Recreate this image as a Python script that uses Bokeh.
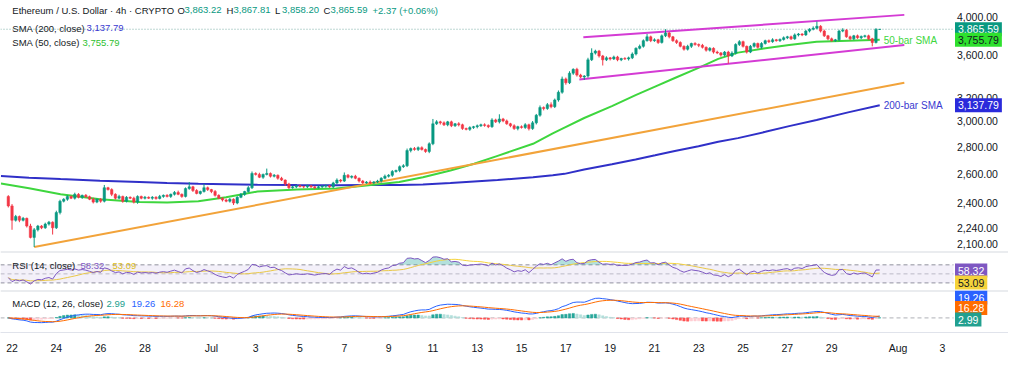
import numpy as np
import pandas as pd
from bokeh.plotting import figure
from bokeh.layouts import column
from bokeh.models import Range1d, FixedTicker, Span, Label, BoxAnnotation
from bokeh.core.properties import value
from bokeh.embed import file_html
from bokeh.resources import INLINE

# ---------------- data ----------------
# 4h ETH/USD candles, first bar 21 Jun 20:00, x measured in days from 22 Jun 00:00
first_open = 2442.0
closes = [
    2379, 2287, 2311, 2287, 2299, 2251, 2182, 2228, 2251, 2240,
    2263, 2275, 2240, 2336, 2410, 2423, 2442, 2430, 2456, 2436,
    2449, 2440, 2423, 2404, 2423, 2410, 2501, 2488, 2456, 2430,
    2442, 2410, 2436, 2430, 2404, 2442, 2430, 2436, 2430, 2436,
    2428, 2442, 2449, 2442, 2456, 2469, 2456, 2442, 2495, 2507,
    2482, 2462, 2475, 2501, 2488, 2475, 2449, 2430, 2418, 2410,
    2423, 2398, 2436, 2456, 2475, 2501, 2601, 2594, 2574, 2594,
    2601, 2581, 2588, 2567, 2554, 2527, 2501, 2507, 2514, 2509,
    2507, 2514, 2507, 2501, 2507, 2512, 2514, 2507, 2534, 2554,
    2547, 2588, 2574, 2581, 2567, 2547, 2534, 2540, 2534, 2541,
    2547, 2567, 2581, 2588, 2615, 2622, 2650, 2657, 2770, 2785,
    2778, 2792, 2778, 2763, 2822, 2981, 2997, 2989, 2973, 2997,
    2965, 2981, 2973, 2942, 2936, 2950, 2958, 2965, 2973, 2968,
    2958, 3013, 2997, 3021, 3005, 2981, 2965, 2942, 2958, 2951,
    2973, 2942, 2989, 3052, 3117, 3109, 3142, 3125, 3183, 3251,
    3372, 3337, 3426, 3462, 3408, 3390, 3399, 3554, 3620, 3640,
    3592, 3554, 3573, 3563, 3582, 3554, 3566, 3563, 3573, 3611,
    3668, 3688, 3746, 3786, 3746, 3755, 3727, 3796, 3826, 3786,
    3746, 3727, 3688, 3659, 3688, 3717, 3706, 3698, 3678, 3649,
    3668, 3630, 3622, 3601, 3630, 3592, 3620, 3707, 3736, 3688,
    3630, 3688, 3717, 3678, 3717, 3746, 3736, 3755, 3746, 3758,
    3776, 3786, 3765, 3806, 3815, 3806, 3846, 3866, 3876, 3897,
    3846, 3796, 3765, 3746, 3755, 3846, 3856, 3786, 3765, 3796,
    3776, 3790, 3796, 3765, 3727, 3863.22, 3865.59,
]
upper_wick = [
    8, 12, 10, 6, 9, 5, 14, 11, 7, 6,
    9, 8, 5, 12, 10, 7, 9, 6, 11, 8,
    5, 9, 7, 10, 6, 8, 19, 6, 9, 7,
    11, 5, 8, 6, 10, 7, 5, 9, 6, 8,
    7, 10, 6, 8, 5, 9, 12, 6, 8, 33,
    7, 9, 6, 26, 8, 5, 10, 7, 6, 9,
    8, 6, 7, 9, 5, 11, 14, 8, 12, 6,
    35, 7, 9, 6, 10, 5, 8, 7, 6, 9,
    5, 8, 6, 7, 10, 6, 9, 5, 8, 12,
    7, 20, 9, 6, 10, 5, 8, 7, 11, 6,
    9, 7, 12, 8, 10, 6, 9, 11, 15, 8,
    12, 9, 10, 7, 11, 40, 14, 9, 12, 8,
    10, 7, 13, 9, 8, 11, 6, 10, 9, 12,
    8, 14, 10, 39, 9, 11, 8, 12, 7, 10,
    13, 9, 15, 11, 18, 10, 14, 20, 12, 16,
    22, 13, 18, 10, 15, 12, 9, 20, 48, 14,
    12, 10, 15, 9, 13, 11, 8, 14, 12, 16,
    10, 18, 13, 29, 12, 15, 10, 14, 40, 11,
    9, 14, 12, 10, 16, 8, 13, 11, 15, 9,
    12, 10, 14, 9, 11, 13, 18, 12, 15, 10,
    8, 14, 11, 9, 13, 10, 12, 16, 9, 11,
    14, 10, 12, 15, 11, 9, 13, 10, 20, 51,
    12, 15, 10, 13, 9, 14, 20, 11, 12, 10,
    13, 9, 11, 12, 10, 14, 2.22,
]
lower_wick = [
    10, 59, 8, 12, 7, 9, 6, 57, 10, 8,
    6, 9, 41, 7, 12, 8, 10, 6, 9, 7,
    11, 8, 6, 9, 7, 10, 8, 6, 12, 9,
    7, 10, 8, 6, 9, 11, 7, 8, 5, 10,
    8, 6, 9, 7, 10, 8, 6, 9, 7, 8,
    10, 6, 8, 7, 9, 11, 8, 6, 10, 7,
    9, 13, 8, 6, 10, 7, 9, 8, 6, 11,
    7, 9, 8, 10, 6, 13, 8, 7, 9, 6,
    10, 8, 7, 9, 6, 8, 11, 7, 9, 8,
    10, 6, 8, 9, 7, 10, 8, 6, 9, 7,
    8, 10, 7, 9, 11, 8, 12, 9, 10, 14,
    9, 12, 8, 10, 13, 11, 9, 14, 10, 12,
    11, 9, 13, 10, 8, 12, 10, 14, 9, 11,
    12, 10, 9, 13, 11, 8, 12, 10, 14, 9,
    11, 15, 10, 13, 12, 16, 11, 14, 12, 15,
    13, 18, 12, 16, 14, 11, 27, 15, 12, 14,
    16, 55, 12, 15, 11, 14, 13, 10, 16, 12,
    14, 11, 13, 10, 15, 12, 14, 11, 13, 16,
    12, 15, 10, 14, 13, 16, 11, 18, 12, 14,
    13, 15, 12, 16, 14, 75, 11, 13, 15, 12,
    14, 10, 13, 12, 15, 11, 14, 12, 10, 13,
    11, 14, 12, 10, 16, 13, 11, 14, 12, 10,
    15, 12, 14, 11, 13, 16, 12, 10, 14, 13,
    11, 15, 12, 14, 39, 10, 5.02,
]
bar_start_day = -1 / 6
bar_step_day = 1 / 6

sma_days = [-0.5, 0.77, 2.19, 3.97, 5.75, 7.0, 8.41, 9.66, 11.08, 12.86, 14.64,
            15.88, 17.48, 18.55, 19.79, 20.86, 21.92, 23.52, 24.41, 24.94, 25.83,
            27.08, 28.15, 29.03, 29.92, 30.99, 31.88, 32.77, 34.01, 35.08, 36.32,
            37.74, 39.17]
sma200 = [2582, 2571, 2561, 2549, 2540, 2534, 2528, 2525, 2521, 2519, 2518,
          2519, 2520, 2524, 2534, 2544, 2554, 2574, 2588, 2598, 2629,
          2667, 2702, 2734, 2767, 2803, 2837, 2866, 2916, 2962, 3013,
          3076, 3137.79]
sma50 = [2530, 2498, 2456, 2423, 2404, 2401, 2410, 2436, 2475, 2488, 2495,
         2514, 2540, 2574, 2622, 2671, 2730, 2822, 2904, 2950, 3029,
         3129, 3225, 3302, 3381, 3476, 3563, 3625, 3668, 3702, 3736,
         3746, 3755.79]

support_days = [1.0, 40.28]
support_prices = [2125, 3336]
chan_top_days = [25.79, 40.28]
chan_top_prices = [3782, 4021]
chan_bot_days = [25.61, 40.28]
chan_bot_prices = [3367, 3701]

date_ticks = [0, 2, 4, 6, 9, 11, 13, 15, 17, 19, 21, 23, 25, 27, 29, 31, 33, 35, 37, 40, 42]
date_labels = ["22", "24", "26", "28", "Jul", "3", "5", "7", "9", "11", "13", "15",
               "17", "19", "21", "23", "25", "27", "29", "Aug", "3"]
price_ticks = [2240, 2400, 2600, 2800, 3000, 3200, 3600, 4000]
price_tick_bottom = 2100

last_open, last_high, last_low, last_close = 3863.22, 3867.81, 3858.20, 3865.59
last_change, last_change_pct = 2.37, 0.06
last_sma200, last_sma50 = 3137.79, 3755.79
last_rsi, last_rsi_ma = 58.32, 53.09
last_hist, last_macd, last_signal = 2.99, 19.26, 16.28
rsi_seed_move = 12.0

# ---------------- styling ----------------
FONT = "Liberation Sans"
TXT = "#131722"
UP, DN = "#089981", "#F23645"
C200, C50 = "#3030C8", "#3ED63E"
C200_BOX, C50_BOX = "#2A2ADB", "#2EE02E"
ORANGE, MAGENTA = "#F2A33A", "#D43BD4"
RSI_C, RSI_MA_C = "#7E57C2", "#F5D33B"
MACD_C, SIG_C = "#2962FF", "#FF6D00"

W = 1008          # whole width
FW = 953          # width of the chart area (left of the price scale)
x_lo, x_chart_end = -0.52, 42.5
x_hi = x_lo + (x_chart_end - x_lo) * W / FW
xr = Range1d(x_lo, x_hi)
px_day = (x_chart_end - x_lo) / FW
scale_label_x = x_chart_end + 3.5 * px_day

n = len(closes)
t = bar_start_day + bar_step_day * np.arange(n)
c = np.array(closes, float)
o = np.concatenate([[first_open], c[:-1]])
hi = np.maximum(o, c) + np.array(upper_wick, float)
lo = np.minimum(o, c) - np.array(lower_wick, float)
col = np.where(c >= o, UP, DN)


def base(fig):
    fig.grid.visible = False
    fig.background_fill_color = "white"
    fig.border_fill_color = "white"
    fig.outline_line_color = None


def lab(fig, x, y, text, color, size="9.5px", xu="screen", yu="screen", bg=None,
        align="left", yoff=0):
    kw = dict(x=x, y=y, x_units=xu, y_units=yu, text=text, text_color=color,
              text_font_size=size, text_font=FONT, text_align=align,
              text_baseline="middle", y_offset=yoff)
    if bg is not None:
        kw["background_fill_color"] = bg
        kw["padding"] = 3
    fig.add_layout(Label(**kw))


def hline(fig, y, color, dash, alpha=1.0):
    fig.line([x_lo, x_chart_end], [y, y], line_color=color, line_dash=dash,
             line_width=1, line_alpha=alpha)


# ---------------- main pane ----------------
MH = 251
p = figure(width=W, height=MH, x_range=xr, y_range=Range1d(2099, 4183), y_axis_type="log",
           x_axis_location=None, y_axis_location=None, output_backend="svg",
           toolbar_location=None, min_border_left=0, min_border_right=0,
           min_border_top=0, min_border_bottom=0)
base(p)

hline(p, last_close, "#5a9e94", "1 2", 0.8)

p.line(sma_days, sma200, line_color=C200, line_width=2)
p.line(sma_days, sma50, line_color=C50, line_width=2)
p.line(support_days, support_prices, line_color=ORANGE, line_width=2)
p.line(chan_top_days, chan_top_prices, line_color=MAGENTA, line_width=2)
p.line(chan_bot_days, chan_bot_prices, line_color=MAGENTA, line_width=2)

p.segment(t, hi, t, lo, line_color=col, line_width=1)
p.vbar(x=t, width=0.11, top=np.maximum(o, c), bottom=np.minimum(o, c),
       fill_color=col, line_color=col, line_width=0.5)

# price scale labels
p.text(x=[scale_label_x] * len(price_ticks), y=price_ticks,
       text=[f"{v:,.2f}" for v in price_ticks], text_font=value(FONT),
       text_font_size=value("10.5px"), text_color=TXT, text_baseline="middle",
       text_align="left")
p.text(x=[scale_label_x], y=[price_tick_bottom], text=[f"{price_tick_bottom:,.2f}"],
       text_font=value(FONT), text_font_size=value("10.5px"), text_color=TXT,
       text_baseline="bottom", text_align="left", y_offset=-3)

lab(p, 39.35, 3745, "50-bar SMA", C50, size="10px", xu="data", yu="data")
lab(p, 39.35, 3131, "200-bar SMA", "#3A3AD0", size="10px", xu="data", yu="data")

# header legend
y1, y2, y3 = MH - 9.6, MH - 27.8, MH - 42.1
lab(p, 11.8, y1, "Ethereum / U.S. Dollar · 4h · CRYPTO", TXT)
for letter, num, x0 in [("O", last_open, 177), ("H", last_high, 226),
                        ("L", last_low, 274.5), ("C", last_close, 323)]:
    lab(p, x0, y1, letter, TXT)
    lab(p, x0 + 7, y1, f"{num:,.2f}", UP)
lab(p, 372, y1, f"+{last_change:.2f} (+{last_change_pct:.2f}%)", UP)
lab(p, 11.8, y2, "SMA (200, close)", TXT)
lab(p, 86, y2, f"{last_sma200:,.2f}", "#3A3AD0")
lab(p, 11.8, y3, "SMA (50, close)", TXT)
lab(p, 82, y3, f"{last_sma50:,.2f}", "#2FBF2F")

# price-scale boxes
lab(p, FW + 1.5, last_close, f"{last_close:,.2f}", "white", size="10.5px", yu="data", bg=UP)
lab(p, FW + 1.5, last_sma50, f"{last_sma50:,.2f}", TXT, size="10.5px", yu="data", bg=C50_BOX)
lab(p, FW + 1.5, last_sma200, f"{last_sma200:,.2f}", "white", size="10.5px", yu="data", bg=C200_BOX)

# ---------------- RSI pane ----------------
diff = np.diff(np.concatenate([[first_open], c]))
gain = np.clip(diff, 0, None)
loss = np.clip(-diff, 0, None)
ag = al = rsi_seed_move
rsi = []
for g_, l_ in zip(gain, loss):
    ag = (ag * 13 + g_) / 14
    al = (al * 13 + l_) / 14
    rsi.append(100 - 100 / (1 + ag / al))
rsi = np.array(rsi)
rsi_ma = pd.Series(rsi).rolling(14, min_periods=1).mean().to_numpy()

RH = 39
r = figure(width=W, height=RH, x_range=xr, y_range=Range1d(13.2, 99.5),
           x_axis_location=None, y_axis_location=None, output_backend="svg",
           toolbar_location=None, min_border_left=0, min_border_right=0,
           min_border_top=0, min_border_bottom=0)
base(r)
r.add_layout(BoxAnnotation(left=x_lo, right=x_chart_end, bottom=30, top=70,
                           fill_color=RSI_C, fill_alpha=0.09, line_color=None))
for lvl, a in [(70, 0.8), (50, 0.45), (30, 0.8)]:
    hline(r, lvl, "#787B86", "4 3", a)
r.varea(x=t, y1=70, y2=np.maximum(rsi, 70), fill_color="#26A69A", fill_alpha=0.35)
r.varea(x=t, y1=np.minimum(rsi, 30), y2=30, fill_color="#F23645", fill_alpha=0.25)
r.line(t, rsi_ma, line_color=RSI_MA_C, line_width=1)
r.line(t, rsi, line_color=RSI_C, line_width=1)
r.add_layout(Span(location=99.5, dimension="width", line_color="#D6D9E0", line_width=2))
lab(r, 11.8, RH - 14.3, "RSI (14, close)", TXT)
lab(r, 80, RH - 14.3, f"{last_rsi:.2f}", RSI_C)
lab(r, 112, RH - 14.3, f"{last_rsi_ma:.2f}", "#E0BE20")
lab(r, FW + 1.5, RH - 19.0, f"{last_rsi:.2f}", "white", size="10.5px", bg=RSI_C)
lab(r, FW + 1.5, 8.0, f"{last_rsi_ma:.2f}", TXT, size="10.5px", bg=RSI_MA_C)

# ---------------- MACD pane ----------------
s = pd.Series(c)
macd = (s.ewm(span=12, adjust=False).mean() - s.ewm(span=26, adjust=False).mean()).to_numpy()
signal = pd.Series(macd).ewm(span=9, adjust=False).mean().to_numpy()
hist = macd - signal
prev = np.concatenate([[0.0], hist[:-1]])
hcol = np.where(hist >= 0, np.where(hist >= prev, "#26A69A", "#B2DFDB"),
                np.where(hist < prev, "#FF5252", "#FFCDD2"))
M = float(np.max(macd))

AXH = 26
GH = 42
m = figure(width=W, height=GH + AXH, x_range=xr, y_range=Range1d(-0.74 * M, 1.39 * M),
           x_axis_location="below", y_axis_location=None, output_backend="svg",
           toolbar_location=None, min_border_left=0, min_border_right=0,
           min_border_top=0, min_border_bottom=AXH)
base(m)
m.xaxis.ticker = FixedTicker(ticks=date_ticks, minor_ticks=[])
m.xaxis.major_label_overrides = dict(zip(date_ticks, date_labels))
m.xaxis.axis_line_color = "#E0E3EB"
m.xaxis.major_tick_line_color = None
m.xaxis.minor_tick_line_color = None
m.xaxis.major_label_text_font_size = "10.5px"
m.xaxis.major_label_text_font = FONT
m.xaxis.major_label_text_color = TXT
m.xaxis.major_label_standoff = 3
hline(m, 0, "#787B86", "4 3", 0.6)
m.vbar(x=t, width=0.11, top=hist, bottom=0, fill_color=hcol, line_color=hcol, line_width=0.5)
m.line(t, macd, line_color=MACD_C, line_width=1)
m.line(t, signal, line_color=SIG_C, line_width=1)
m.add_layout(Span(location=1.39 * M, dimension="width", line_color="#D6D9E0", line_width=2))
lab(m, 11.8, GH - 13.4, "MACD (12, 26, close)", TXT)
lab(m, 106, GH - 13.4, f"{last_hist:.2f}", "#22A08F")
lab(m, 131, GH - 13.4, f"{last_macd:.2f}", MACD_C)
lab(m, 160, GH - 13.4, f"{last_signal:.2f}", SIG_C)
lab(m, FW + 1.5, GH - 7.0, f"{last_macd:.2f}", "white", size="10.5px", bg=MACD_C)
lab(m, FW + 1.5, GH - 17.5, f"{last_signal:.2f}", "white", size="10.5px", bg=SIG_C)
lab(m, FW + 1.5, GH - 29.0, f"{last_hist:.2f}", "white", size="10.5px", bg="#22A08F")

layout = column(p, r, m, spacing=0)
open("out.html", "w").write(file_html(layout, INLINE))
